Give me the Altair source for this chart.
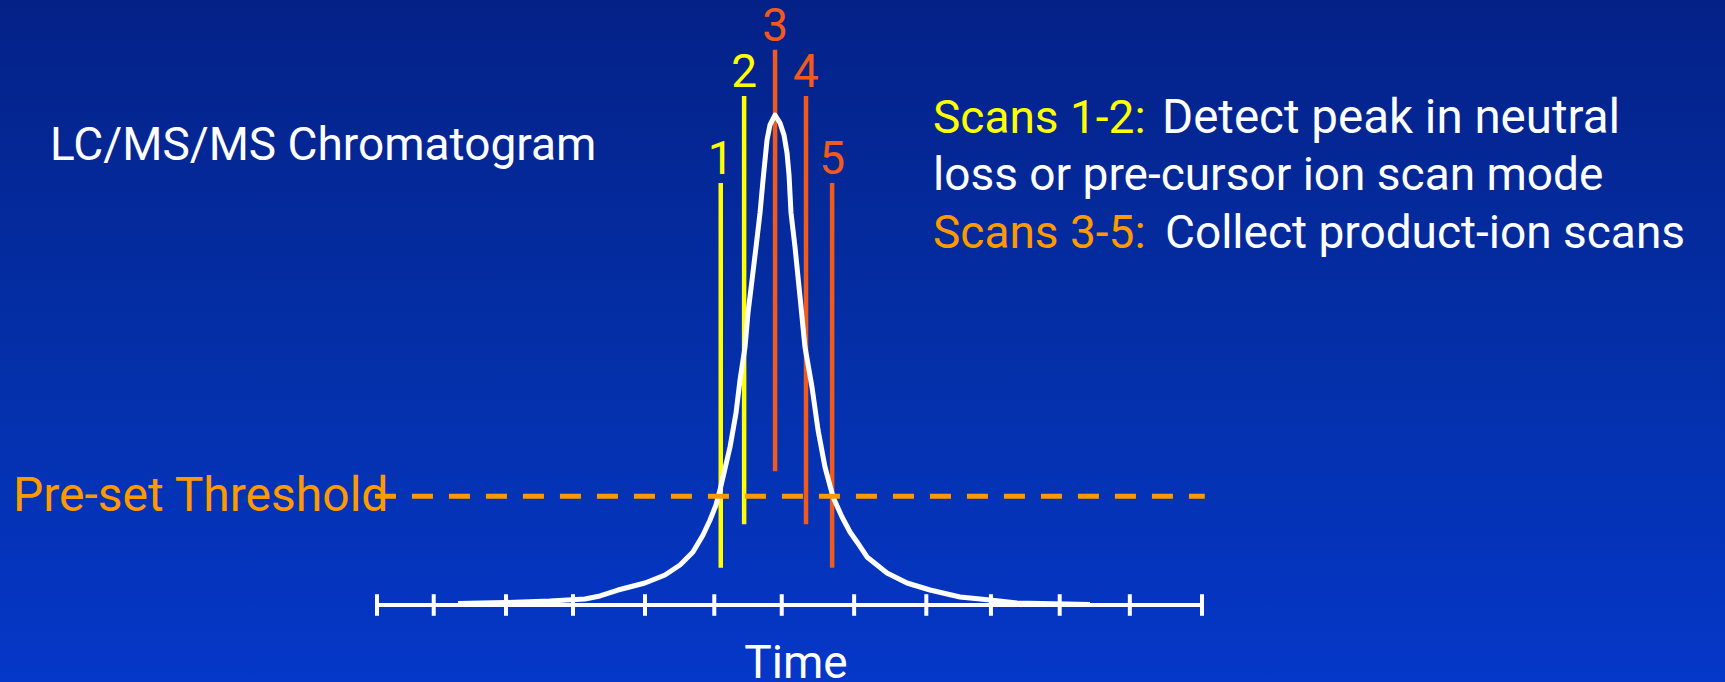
import altair as alt
import pandas as pd

# ---- chromatogram trace (time units, relative intensity %) ----
trace_time = [1.178, 1.862, 2.516, 3.025, 3.244, 3.505, 3.898, 4.189, 4.407, 4.596,
              4.742, 4.844, 4.931, 4.989, 5.047, 5.135, 5.222, 5.280, 5.353, 5.396,
              5.455, 5.513, 5.571, 5.615, 5.644, 5.673, 5.716, 5.789,
              5.862, 5.920, 5.964, 5.993, 6.022, 6.080, 6.153, 6.225, 6.327, 6.415,
              6.516, 6.633, 6.764, 6.880, 6.982, 7.127, 7.273, 7.418, 7.709, 8.044,
              8.480, 8.916, 9.309, 10.371]
trace_intensity = [0.31, 0.51, 0.82, 1.22, 1.84, 3.06, 4.49, 6.12, 8.16, 10.82,
                   14.29, 17.35, 20.41, 23.47, 26.94, 32.24, 39.18, 45.92, 52.65, 59.59,
                   66.33, 73.06, 80.00, 86.73, 90.82, 94.90, 97.96, 100.0,
                   98.37, 95.92, 92.24, 87.76, 80.00, 73.06, 62.86, 52.65, 44.49, 35.71,
                   28.16, 22.04, 17.96, 14.90, 12.86, 9.80, 8.16, 6.53, 4.49, 3.06,
                   1.63, 1.02, 0.41, 0.10]

# ---- time axis ----
axis_start = 0.0
axis_end = 12.0
tick_times = [0.0, 0.825, 1.876, 2.851, 3.898, 4.906, 5.887, 6.94, 7.99, 8.93, 9.93, 10.95, 12.0]
tick_half = 2.2

# ---- threshold ----
threshold_level = 22.2
threshold_from = -0.03
threshold_to = 12.04

# ---- scans ----
scan_ids = ["1", "2", "3", "4", "5"]
scan_times = [5.00, 5.34, 5.79, 6.24, 6.62]
scan_top = [86.1, 103.9, 113.3, 103.9, 86.1]
scan_bottom = [7.6, 16.5, 27.3, 16.5, 7.6]
scan_phase = ["detect", "detect", "collect", "collect", "collect"]

YELLOW = "#FFFF00"
SCAN_RED = "#F25A1C"
ORANGE = "#FF9900"
WHITE = "#FFFFFF"
FONT = "Roboto"

W, H = 1725, 682
x_scale = alt.Scale(domain=[-5.4836, 19.607], nice=False, zero=False)
y_scale = alt.Scale(domain=[-15.714, 123.469], nice=False, zero=False)

trace = pd.DataFrame({"time": trace_time, "intensity": trace_intensity})
ticks = pd.DataFrame({"time": tick_times, "lo": [-tick_half] * len(tick_times),
                      "hi": [tick_half] * len(tick_times)})
axis_df = pd.DataFrame({"t0": [axis_start], "t1": [axis_end], "y": [0.0]})
thr_df = pd.DataFrame({"t0": [threshold_from], "t1": [threshold_to], "y": [threshold_level]})
scans = pd.DataFrame({"id": scan_ids, "time": scan_times, "top": scan_top,
                      "bottom": scan_bottom, "phase": scan_phase})
one = pd.DataFrame({"k": [0]})

X = lambda f: alt.X(f, type="quantitative", scale=x_scale, axis=None)
Y = lambda f: alt.Y(f, type="quantitative", scale=y_scale, axis=None)
phase_color = alt.Color("phase:N", scale=alt.Scale(domain=["detect", "collect"],
                                                   range=[YELLOW, SCAN_RED]), legend=None)

background = alt.Chart(one).mark_rect(
    fill=alt.Gradient(gradient="linear", x1=0, y1=0, x2=0, y2=1,
                      stops=[alt.GradientStop(color="#042187", offset=0),
                             alt.GradientStop(color="#0430AA", offset=0.55),
                             alt.GradientStop(color="#0537C8", offset=1)])
).encode(x=alt.value(0), x2=alt.value(W), y=alt.value(0), y2=alt.value(H))

scan_lines = alt.Chart(scans).mark_rule(strokeWidth=4.5).encode(
    x=X("time"), y=Y("top"), y2="bottom", color=phase_color)

scan_labels = alt.Chart(scans).mark_text(
    font=FONT, fontSize=46, baseline="alphabetic", align="center", dy=-9
).encode(x=X("time"), y=Y("top"), text="id:N", color=phase_color)

curve = alt.Chart(trace).mark_line(color=WHITE, strokeWidth=5, strokeJoin="round").encode(
    x=X("time"), y=Y("intensity"))

threshold = alt.Chart(thr_df).mark_rule(color=ORANGE, strokeWidth=5, strokeDash=[21, 16]).encode(
    x=X("t0"), x2="t1", y=Y("y"))

axis_line = alt.Chart(axis_df).mark_rule(color=WHITE, strokeWidth=4).encode(
    x=X("t0"), x2="t1", y=Y("y"))

axis_ticks = alt.Chart(ticks).mark_rule(color=WHITE, strokeWidth=4).encode(
    x=X("time"), y=Y("lo"), y2="hi")


def label(text, x, y, color, align="left", size=46):
    return alt.Chart(one).mark_text(
        text=text, font=FONT, fontSize=size, color=color, align=align, baseline="alphabetic"
    ).encode(x=alt.value(x), y=alt.value(y))


texts = [
    label("LC/MS/MS Chromatogram", 50, 160, WHITE),
    label("Pre-set Threshold", 13, 511, ORANGE, size=48),
    label("Time", 796, 678, WHITE, align="center"),
    label("Scans 1-2:", 933, 133, YELLOW),
    label("Detect peak in neutral", 1162, 133, WHITE, size=47.5),
    label("loss or pre-cursor ion scan mode", 933, 190, WHITE),
    label("Scans 3-5:", 933, 248, ORANGE),
    label("Collect product-ion scans", 1165, 248, WHITE),
]

chart = alt.layer(
    background, scan_lines, curve, threshold, axis_line, axis_ticks, scan_labels, *texts
).properties(
    width=W, height=H, padding=0, autosize=alt.AutoSizeParams(type="none"),
    background="#0537C8"
).configure_view(strokeWidth=0)

chart.save("out.html", embed_options={"renderer": "svg", "actions": False})
